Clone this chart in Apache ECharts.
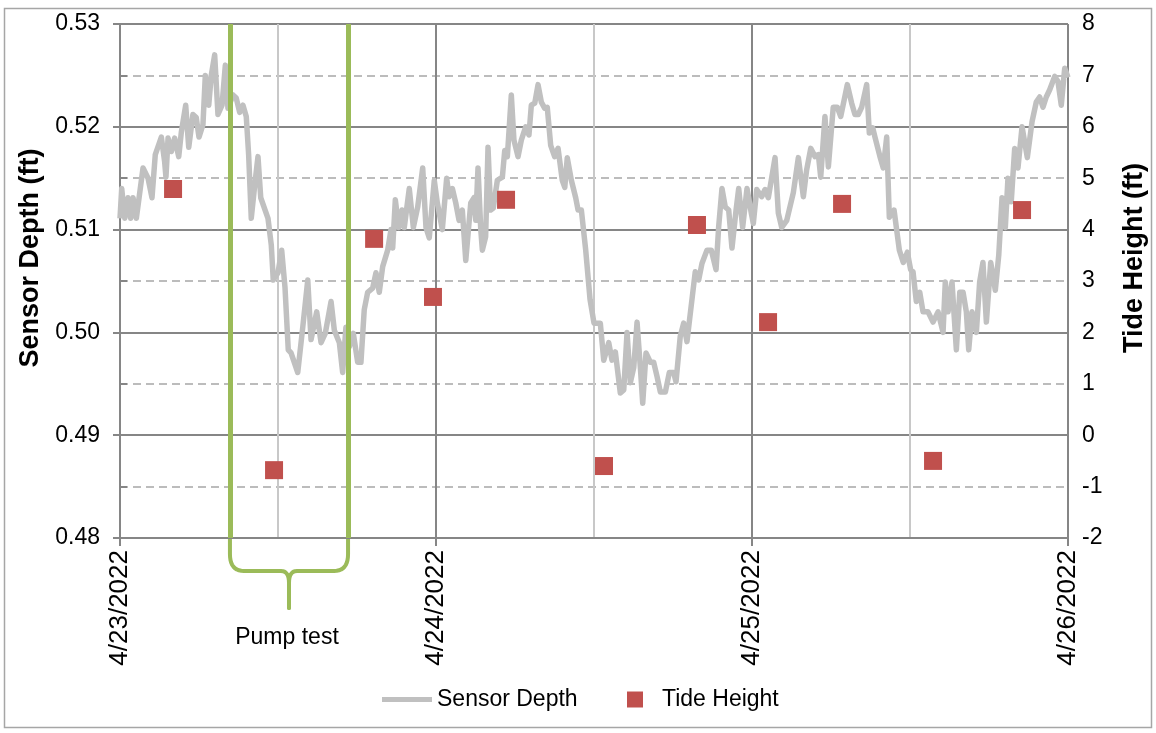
<!DOCTYPE html>
<html><head><meta charset="utf-8">
<script src="https://cdn.jsdelivr.net/npm/echarts@6/dist/echarts.min.js"></script>
<style>html,body{margin:0;padding:0;background:#fff}#c{width:1156px;height:733px}</style>
</head><body><div id="c"></div>
<script>
// ---- data ----
// hours since 4/23/2022 00:00
const sensorHours = [
 0.00,0.13,0.36,0.61,0.81,0.99,1.24,1.75,2.13,2.43,
 2.68,3.14,3.39,3.49,3.65,3.90,4.15,4.46,4.66,4.99,
 5.22,5.54,5.79,6.00,6.30,6.48,6.74,6.93,7.19,7.44,
 7.75,8.00,8.20,8.58,8.83,9.09,9.34,9.59,9.77,9.97,
 10.23,10.48,10.69,11.24,11.49,11.64,12.00,12.28,12.53,12.78,
 12.99,13.50,13.88,14.26,14.51,14.94,15.27,15.59,16.03,16.28,
 16.66,16.91,17.16,17.42,17.72,18.05,18.30,18.55,18.81,19.19,
 19.44,19.69,19.95,20.33,20.58,20.71,20.91,21.17,21.42,21.59,
 21.97,22.28,22.61,22.99,23.24,23.49,23.87,24.10,24.48,24.81,
 24.99,25.24,25.50,25.75,26.00,26.26,26.64,26.89,27.02,27.19,
 27.40,27.52,27.77,27.95,28.15,28.35,28.66,29.04,29.22,29.42,
 29.72,29.92,30.23,30.48,30.81,31.06,31.24,31.50,31.75,32.00,
 32.26,32.45,32.71,33.01,33.27,33.59,33.78,33.97,34.28,34.61,
 34.79,35.04,35.37,35.70,36.00,36.23,36.48,36.74,37.12,37.37,
 37.62,38.00,38.26,38.51,38.76,39.02,39.27,39.52,39.70,39.95,
 40.28,40.53,40.79,41.04,41.42,41.72,42.05,42.23,42.55,42.81,
 43.06,43.44,43.69,43.95,44.20,44.58,44.91,45.27,45.47,45.72,
 45.97,46.23,46.48,46.79,46.99,47.29,47.62,47.95,48.10,48.36,
 48.74,48.99,49.24,49.75,50.00,50.26,50.64,51.14,51.52,51.90,
 52.15,52.46,52.79,53.04,53.22,53.54,53.80,54.17,54.48,54.74,
 55.24,55.57,55.82,56.07,56.33,56.71,56.91,57.17,57.34,57.72,
 57.97,58.23,58.43,58.79,59.19,59.49,59.80,60.05,60.23,60.48,
 60.74,60.99,61.37,61.75,62.13,62.51,62.68,62.89,63.19,63.52,
 63.78,64.03,64.28,64.46,64.71,65.04,65.29,65.54,65.80,66.13,
 66.48,66.74,66.99,67.24,67.44,67.69,67.95,68.20,68.51,68.91,
 69.27,69.59,69.85,70.10,70.35,70.61,70.99,71.24,71.49,71.75,72.00
];
const sensorDepth = [
 0.5111,0.5140,0.5111,0.5131,0.5111,0.5131,0.5111,0.5160,0.5150,0.5131,
 0.5173,0.5190,0.5166,0.5151,0.5189,0.5176,0.5189,0.5171,0.5195,0.5221,
 0.5180,0.5212,0.5209,0.5190,0.5202,0.5250,0.5221,0.5250,0.5270,0.5212,
 0.5221,0.5260,0.5218,0.5231,0.5228,0.5214,0.5221,0.5210,0.5173,0.5111,
 0.5143,0.5171,0.5131,0.5111,0.5085,0.5051,0.5058,0.5080,0.5044,0.4983,
 0.4980,0.4961,0.5005,0.5051,0.4993,0.5020,0.4990,0.4999,0.5030,0.5002,
 0.4990,0.4961,0.5005,0.4986,0.4999,0.4971,0.4971,0.5022,0.5039,0.5043,
 0.5058,0.5039,0.5064,0.5080,0.5100,0.5082,0.5129,0.5102,0.5119,0.5102,
 0.5140,0.5102,0.5122,0.5160,0.5102,0.5092,0.5148,0.5126,0.5100,0.5150,
 0.5132,0.5140,0.5126,0.5109,0.5119,0.5070,0.5126,0.5131,0.5109,0.5160,
 0.5100,0.5080,0.5093,0.5180,0.5119,0.5121,0.5148,0.5151,0.5177,0.5171,
 0.5231,0.5187,0.5171,0.5187,0.5200,0.5192,0.5221,0.5223,0.5241,0.5224,
 0.5218,0.5219,0.5182,0.5171,0.5179,0.5148,0.5141,0.5170,0.5148,0.5131,
 0.5119,0.5119,0.5080,0.5032,0.5009,0.5009,0.5009,0.4973,0.4990,0.4973,
 0.4981,0.4941,0.4944,0.5000,0.4951,0.4966,0.5010,0.4966,0.4931,0.4980,
 0.4971,0.4971,0.4957,0.4942,0.4942,0.4961,0.4961,0.4952,0.4996,0.5009,
 0.4991,0.5032,0.5059,0.5051,0.5067,0.5080,0.5080,0.5061,0.5103,0.5140,
 0.5122,0.5119,0.5082,0.5119,0.5140,0.5102,0.5140,0.5116,0.5106,0.5139,
 0.5132,0.5139,0.5131,0.5170,0.5116,0.5102,0.5109,0.5136,0.5170,0.5132,
 0.5158,0.5179,0.5171,0.5173,0.5151,0.5210,0.5161,0.5219,0.5219,0.5210,
 0.5241,0.5223,0.5212,0.5212,0.5219,0.5241,0.5194,0.5199,0.5190,0.5171,
 0.5160,0.5190,0.5112,0.5119,0.5080,0.5068,0.5078,0.5061,0.5059,0.5030,
 0.5039,0.5020,0.5020,0.5010,0.5020,0.5000,0.5049,0.5020,0.5049,0.4983,
 0.5039,0.5039,0.5020,0.4983,0.5020,0.5000,0.5049,0.5068,0.5010,0.5068,
 0.5041,0.5075,0.5131,0.5102,0.5150,0.5127,0.5179,0.5160,0.5200,0.5170,
 0.5205,0.5224,0.5229,0.5219,0.5229,0.5236,0.5249,0.5244,0.5221,0.5257,0.5248
];
const tideHours  = [4.03, 11.70, 19.30, 23.77, 29.32, 36.76, 43.82, 49.22, 54.84, 61.75, 68.51];
const tideHeight = [4.79, -0.68, 3.82, 2.69, 4.58, -0.60, 4.09, 2.20, 4.50, -0.50, 4.38];
const xTickLabels = ['4/23/2022', '4/24/2022', '4/25/2022', '4/26/2022'];
const pumpTest = [8.35, 17.32]; // start, end (hours)
const pumpLabel = 'Pump test';

// ---- chart ----
const FONT = '"Liberation Sans", Arial, sans-serif';
const chart = echarts.init(document.getElementById('c'));
const AX = '#868686';
const option = {
  animation: false,
  backgroundColor: '#fff',
  textStyle: { fontFamily: FONT },
  grid: { left: 120, right: 88, top: 24, bottom: 195 },
  xAxis: [
    { type: 'value', min: 0, max: 72, interval: 24,
      axisLine: { show: true, onZero: false, lineStyle: { color: AX, width: 2 } },
      axisTick: { show: true, length: 8, lineStyle: { color: AX, width: 2 } },
      axisLabel: { rotate: 90, margin: 12, fontSize: 26, color: '#000', fontFamily: FONT,
        formatter: v => xTickLabels[Math.round(v / 24)] || '' },
      splitLine: { show: false } },
    { type: 'value', min: 0, max: 72, interval: 12, position: 'bottom',
      axisLine: { show: false }, axisTick: { show: false }, axisLabel: { show: false },
      splitLine: { show: true, lineStyle: { color: [AX, '#c8c8c8'], width: 2 } } }
  ],
  yAxis: [
    { type: 'value', min: 0.48, max: 0.53, interval: 0.01,
      name: 'Sensor Depth (ft)', nameLocation: 'middle', nameRotate: 90, nameGap: 72,
      nameTextStyle: { fontSize: 27, fontWeight: 'bold', color: '#000', fontFamily: FONT, padding: [0, 0, 0, 46] },
      axisLine: { show: true, lineStyle: { color: AX, width: 2 } },
      axisTick: { show: true, length: 7, lineStyle: { color: AX, width: 2 } },
      axisLabel: { fontSize: 23, color: '#000', margin: 20, fontFamily: FONT, formatter: v => v.toFixed(2) },
      splitLine: { show: true, lineStyle: { color: AX, width: 2 } } },
    { type: 'value', min: -2, max: 8, interval: 1, position: 'right',
      name: 'Tide Height (ft)', nameLocation: 'middle', nameRotate: 90, nameGap: 53,
      nameTextStyle: { fontSize: 27, fontWeight: 'bold', color: '#000', fontFamily: FONT, padding: [0, 0, 0, 46] },
      axisLine: { show: true, lineStyle: { color: AX, width: 2 } },
      axisTick: { show: true, length: 7, lineStyle: { color: AX, width: 2 } },
      axisLabel: { fontSize: 23, color: '#000', margin: 14, fontFamily: FONT },
      splitLine: { show: true, lineStyle: { color: ['rgba(0,0,0,0)', '#a6a6a6'], width: 1.5, type: [8, 5] } } }
  ],
  legend: [
    { data: [{ name: 'Sensor Depth', icon: 'rect' }], left: 382, top: 688, padding: 0,
      itemWidth: 50, itemHeight: 5, textStyle: { fontSize: 23, color: '#000', fontFamily: FONT } },
    { data: [{ name: 'Tide Height', icon: 'rect' }], left: 627, top: 688, padding: 0,
      itemWidth: 16, itemHeight: 16, textStyle: { fontSize: 23, color: '#000', fontFamily: FONT, padding: [0, 0, 0, 14] } }
  ],
  series: [
    { type: 'line', name: 'Sensor Depth', xAxisIndex: 0, yAxisIndex: 0,
      data: sensorHours.map((h, i) => [h, sensorDepth[i]]),
      showSymbol: false, symbol: 'none',
      lineStyle: { color: '#c0c0c0', width: 5.5, join: 'round' }, itemStyle: { color: '#c0c0c0' }, z: 2,
      markLine: { silent: true, symbol: 'none', z: 5, animation: false,
        label: { show: false },
        lineStyle: { color: '#9bbb59', width: 5, type: 'solid', opacity: 1 },
        data: pumpTest.map(h => ({ xAxis: h })) } },
    { type: 'scatter', name: 'Tide Height', xAxisIndex: 0, yAxisIndex: 1,
      data: tideHours.map((h, i) => [h, tideHeight[i]]),
      symbol: 'rect', symbolSize: 18, itemStyle: { color: '#c0504d', opacity: 1 }, z: 6 }
  ]
};
chart.setOption(option);

// pump test brace below the axis, positioned from the data via the axis scales
const xa = chart.convertToPixel({ xAxisIndex: 0 }, pumpTest[0]);
const xb = chart.convertToPixel({ xAxisIndex: 0 }, pumpTest[1]);
const y0 = chart.convertToPixel({ yAxisIndex: 0 }, 0.48);
const mid = (xa + xb) / 2;
const hy = y0 + 33, py = y0 + 70;
function quad(p0, p1, p2, n) {
  const out = [];
  for (let i = 1; i <= n; i++) {
    const t = i / n, u = 1 - t;
    out.push([u * u * p0[0] + 2 * u * t * p1[0] + t * t * p2[0], u * u * p0[1] + 2 * u * t * p1[1] + t * t * p2[1]]);
  }
  return out;
}
function halfBrace(xs, dir) {
  const pts = [[xs, y0], [xs, y0 + 16]];
  pts.push(...quad([xs, y0 + 16], [xs, hy], [xs + dir * 14, hy], 10));
  pts.push([mid - dir * 8, hy]);
  pts.push(...quad([mid - dir * 8, hy], [mid, hy], [mid, hy + 12], 8));
  pts.push([mid, py]);
  return pts;
}
const braceStyle = { fill: 'none', stroke: '#9bbb59', lineWidth: 4, lineCap: 'round', lineJoin: 'round' };
chart.setOption({
  graphic: [
    { type: 'rect', silent: true, z: -10, shape: { x: 4.5, y: 8.5, width: 1147, height: 719 },
      style: { fill: 'none', stroke: '#a6a6a6', lineWidth: 1.5 } },
    { type: 'polyline', silent: true, shape: { points: halfBrace(xa, 1) }, style: braceStyle },
    { type: 'polyline', silent: true, shape: { points: halfBrace(xb, -1) }, style: braceStyle },
    { type: 'text', silent: true, x: mid - 2, y: y0 + 100,
      style: { text: pumpLabel, font: '23px ' + FONT, fill: '#000', align: 'center', verticalAlign: 'middle' } }
  ]
});
</script>
</body></html>
